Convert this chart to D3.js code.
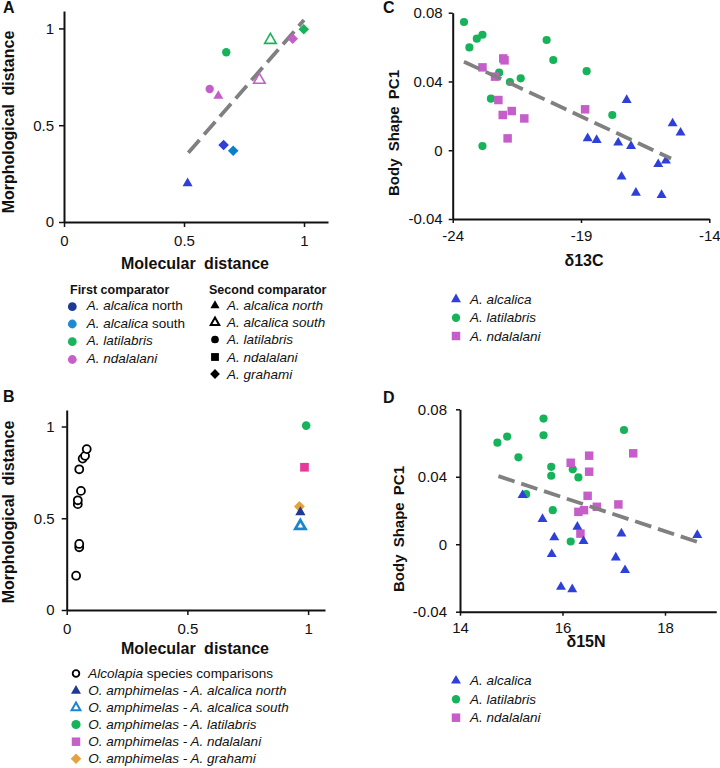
<!DOCTYPE html>
<html><head><meta charset="utf-8">
<script src="https://cdn.jsdelivr.net/npm/d3@7"></script>
<style>body{margin:0;background:#fff} text{font-family:'Liberation Sans',Arial,sans-serif;fill:#111}</style>
</head><body><svg id="c" width="720" height="768"></svg>
<script>
// ---------- Panel A data ----------
const aMolecular    = [0.515, 0.665, 0.705, 0.676, 0.607, 0.643, 0.814, 0.860, 0.953, 0.999];
const aMorphological= [0.200, 0.398, 0.368, 0.877, 0.687, 0.651, 0.734, 0.940, 0.947, 0.996];
const aFirst  = ["north","north","south","latilabris","ndalalani","ndalalani","ndalalani","latilabris","ndalalani","latilabris"];
const aSecond = ["alcN","gra","gra","lat","lat","alcN","alcS","alcS","gra","gra"];
const aTrendX = [0.518, 1.0];
const aTrendY = [0.358, 1.043];
const abTicks = [0, 0.5, 1];
const abTickLabels = ["0", "0.5", "1"];

// ---------- Panel B data ----------
const bAlcMolecular     = [0.039, 0.052, 0.052, 0.046, 0.046, 0.059, 0.052, 0.066, 0.076, 0.083];
const bAlcMorphological = [0.187, 0.342, 0.360, 0.577, 0.598, 0.649, 0.767, 0.825, 0.840, 0.877];
const bOutKeys          = ["grahami", "north", "south", "latilabris", "ndalalani"];
const bOutMolecular     = [0.964, 0.968, 0.968, 0.992, 0.985];
const bOutMorphological = [0.564, 0.533, 0.458, 1.005, 0.778];

// ---------- Panel C data (d13C vs PC1) ----------
const cAlcalicaX = [-18.74,-18.39,-17.22,-17.55,-17.05,-17.42,-16.86,-15.99,-15.69,-15.86,-15.43,-15.12];
const cAlcalicaY = [0.0069,0.0059,0.0292,0.0044,0.0024,-0.0154,-0.0248,-0.0081,-0.0061,-0.0261,0.0156,0.0102];
const cLatiX = [-23.56,-23.35,-23.06,-22.84,-22.84,-22.19,-22.51,-21.77,-21.35,-20.34,-20.08,-18.78,-17.78];
const cLatiY = [0.0746,0.0598,0.0649,0.0672,0.0024,0.0451,0.0300,0.0397,0.0418,0.0641,0.0525,0.0460,0.0205];
const cNdalX = [-22.84,-22.35,-22.03,-21.98,-22.22,-22.05,-21.70,-21.21,-21.86,-18.84];
const cNdalY = [0.0482,0.0428,0.0534,0.0523,0.0292,0.0205,0.0228,0.0185,0.0069,0.0238];
const cTrendX = [-23.56, -15.49];
const cTrendY = [0.0515, -0.0048];
const cXTicks = [-24, -19, -14];
const cXLabels = ["-24", "-19", "-14"];
const pcTicks = [-0.04, 0, 0.04, 0.08];
const pcLabels = ["-0.04", "0", "0.04", "0.08"];

// ---------- Panel D data (d15N vs PC1) ----------
const dAlcalicaX = [15.22,15.61,15.84,15.79,15.97,16.19,16.29,16.41,17.15,17.04,17.22,18.63];
const dAlcalicaY = [0.0291,0.0149,0.0040,-0.0059,-0.0253,-0.0267,0.0103,0.0018,0.0063,-0.0079,-0.0154,0.0054];
const dLatiX = [14.73,14.92,15.14,15.29,15.63,15.63,15.78,15.78,15.81,16.20,16.31,16.16,17.20];
const dLatiY = [0.0602,0.0638,0.0515,0.0297,0.0745,0.0646,0.0459,0.0406,0.0202,0.0444,0.0396,0.0016,0.0677];
const dNdalX = [16.16,16.52,16.52,16.49,16.67,16.31,16.42,16.35,17.09,17.38];
const dNdalY = [0.0483,0.0525,0.0430,0.0287,0.0222,0.0192,0.0202,0.0063,0.0236,0.0539];
const dTrendX = [14.75, 18.63];
const dTrendY = [0.0404, 0.0014];
const dXTicks = [14, 16, 18];
const dXLabels = ["14", "16", "18"];

// ---------- colours ----------
const plotColor = {north:"#2f3fd9", south:"#0b80c9", latilabris:"#16b35a", ndalalani:"#c45ec9"};
const legAColor = {north:"#1c3a93", south:"#1f8ad3", latilabris:"#1bb35d", ndalalani:"#c55fc9"};
const bColor = {north:"#1f3a95", south:"#1a86d0", latilabris:"#16b35a", ndalalani:"#e8389a", grahami:"#e3a23f"};
const bLegColor = {north:"#1f3a95", south:"#1a86d0", latilabris:"#16b35a", ndalalani:"#c55fc9", grahami:"#e3a23f"};
const spColor = {alc:"#2f3fd9", lat:"#16b35a", nda:"#c55ec8"};

const svg = d3.select("#c");
const sym = (type, size) => d3.symbol().type(type).size(size)();

function drawShape(g, kind, x, y, color, scale=1, sw=1.8) {
  let p;
  if (kind === "tri") p = g.append("path").attr("d", sym(d3.symbolTriangle, 43*scale)).attr("fill", color);
  else if (kind === "otri") p = g.append("path").attr("d", sym(d3.symbolTriangle, 52*scale)).attr("fill", "#fff").attr("stroke", color).attr("stroke-width", sw);
  else if (kind === "circle") p = g.append("path").attr("d", sym(d3.symbolCircle, 55*scale)).attr("fill", color);
  else if (kind === "ocircle") p = g.append("path").attr("d", sym(d3.symbolCircle, 50*scale)).attr("fill", "#fff").attr("stroke", color).attr("stroke-width", sw);
  else if (kind === "square") p = g.append("path").attr("d", sym(d3.symbolSquare, 72*scale)).attr("fill", color);
  else if (kind === "diamond") p = g.append("path").attr("d", sym(d3.symbolSquare, 56*scale)).attr("fill", color);
  p.attr("transform", `translate(${x},${y})` + (kind === "diamond" ? " rotate(45)" : ""));
  return p;
}

function axes(g, x, y, xt, xl, yt, yl, o) {
  const gx = g.append("g").attr("transform", `translate(0,${y.range()[0]})`)
    .call(d3.axisBottom(x).tickValues(xt).tickFormat((d,i)=>xl[i]).tickSizeOuter(0).tickSizeInner(o.xts).tickPadding(o.xpad));
  const gy = g.append("g").attr("transform", `translate(${x.range()[0]},0)`)
    .call(d3.axisLeft(y).tickValues(yt).tickFormat((d,i)=>yl[i]).tickSizeOuter(0).tickSizeInner(o.yts).tickPadding(o.ypad));
  [gx, gy].forEach(a => {
    a.select(".domain").attr("stroke", "#111").attr("stroke-width", 2);
    a.selectAll(".tick line").attr("stroke", "#111").attr("stroke-width", 1.5);
    a.selectAll(".tick text").attr("font-size", 15).attr("fill", "#1a1a1a").style("font-family", "'Liberation Sans',Arial,sans-serif");
  });
}

function title(txt, x, y, rot, size=16, ws=4) {
  const t = svg.append("text").text(txt).attr("font-weight", "bold").attr("font-size", size)
    .attr("text-anchor", "middle").style("word-spacing", ws + "px");
  if (rot) t.attr("transform", `translate(${x},${y}) rotate(-90)`);
  else t.attr("x", x).attr("y", y);
}
function letter(txt, x, y) {
  svg.append("text").text(txt).attr("x", x).attr("y", y).attr("font-weight", "bold").attr("font-size", 16);
}
function trend(g, x, y, xs, ys) {
  g.append("path").datum(xs.map((d,i)=>[d, ys[i]]))
    .attr("d", d3.line().x(d=>x(d[0])).y(d=>y(d[1])))
    .attr("stroke", "#808080").attr("stroke-width", 3.8).attr("stroke-dasharray", "17,7").attr("fill", "none");
}
function legText(x, y, parts, size=13.5) {
  const t = svg.append("text").attr("x", x).attr("y", y).attr("font-size", size).attr("fill", "#1a1a1a");
  parts.forEach(p => t.append("tspan").text(p[0]).attr("font-style", p[1] ? "italic" : "normal"));
}

// ================= Panel A =================
{
  const g = svg.append("g");
  const x = d3.scaleLinear().domain([0, 1.1]).range([64, 328]);
  const y = d3.scaleLinear().domain([0, 1.09]).range([222, 11]);
  axes(g, x, y, abTicks, abTickLabels, abTicks, abTickLabels, {xts:5, xpad:8, yts:5, ypad:5});
  trend(g, x, y, aTrendX, aTrendY);
  const shapeOf = {alcN:"tri", alcS:"otri", lat:"circle", nda:"square", gra:"diamond"};
  aMolecular.forEach((m, i) => drawShape(g, shapeOf[aSecond[i]], x(m), y(aMorphological[i]), plotColor[aFirst[i]], aSecond[i]==="alcS"?1.1:1, 1.6));
  letter("A", 3, 13);
  title("Morphological distance", 14, 122, true);
  title("Molecular distance", 195, 269, false);

  // legend
  svg.append("text").text("First comparator").attr("x", 70).attr("y", 294).attr("font-weight", "bold").attr("font-size", 12.5);
  svg.append("text").text("Second comparator").attr("x", 209).attr("y", 294).attr("font-weight", "bold").attr("font-size", 12.5);
  const firstKeys = ["north", "south", "latilabris", "ndalalani"];
  const firstParts = [[["A. alcalica",1],[" north",0]], [["A. alcalica",1],[" south",0]], [["A. latilabris",1]], [["A. ndalalani",1]]];
  const firstY = [306.7, 324, 341.7, 359.5];
  firstKeys.forEach((k, i) => {
    drawShape(svg, "circle", 72.3, firstY[i], legAColor[k], 1.1);
    legText(86.7, firstY[i] + 3.5, firstParts[i]);
  });
  const secKinds = ["tri", "otri", "circle", "square", "diamond"];
  const secNames = ["A. alcalica north", "A. alcalica south", "A. latilabris", "A. ndalalani", "A. grahami"];
  const secY = [305.5, 322.5, 339.5, 357, 374];
  secKinds.forEach((k, i) => {
    drawShape(svg, k, 215, secY[i], "#000", k==="otri"?0.6:0.85, 2);
    legText(227, secY[i] + 4.5, [[secNames[i],1]]);
  });
}

// ================= Panel B =================
{
  const g = svg.append("g");
  const x = d3.scaleLinear().domain([0, 1.07]).range([66.7, 325]);
  const y = d3.scaleLinear().domain([0, 1.09]).range([610, 410]);
  axes(g, x, y, abTicks, abTickLabels, abTicks, abTickLabels, {xts:5, xpad:8, yts:5, ypad:7});
  bAlcMolecular.forEach((m, i) => drawShape(g, "ocircle", x(m), y(bAlcMorphological[i]), "#000", 1, 1.8));
  const kindOf = {north:"tri", south:"otri", latilabris:"circle", ndalalani:"square", grahami:"diamond"};
  bOutKeys.forEach((k, i) => drawShape(g, kindOf[k], x(bOutMolecular[i]), y(bOutMorphological[i]), bColor[k], k==="south"?0.85:1.05, 2.8));
  letter("B", 3, 402);
  title("Morphological distance", 14, 512, true);
  title("Molecular distance", 195, 654, false);

  const legKeys = ["alc", "north", "south", "latilabris", "ndalalani", "grahami"];
  const legParts = [[["Alcolapia",1],[" species comparisons",0]],
    [["O. amphimelas - A. alcalica north",1]], [["O. amphimelas - A. alcalica south",1]],
    [["O. amphimelas - A. latilabris",1]], [["O. amphimelas - A. ndalalani",1]], [["O. amphimelas - A. grahami",1]]];
  const legY = [673.5, 690.8, 707.7, 724.5, 741.7, 758.7];
  legKeys.forEach((k, i) => {
    if (k === "alc") drawShape(svg, "ocircle", 76, legY[i], "#000", 0.7, 1.8);
    else drawShape(svg, kindOf[k], 76, legY[i], bLegColor[k], k==="south"?0.65:(k==="latilabris"?1.2:1.0), 2);
    legText(88.3, legY[i] + 4.5, legParts[i]);
  });
}

// ================= Panels C & D =================
function isoPanel(cfg) {
  const g = svg.append("g");
  const x = d3.scaleLinear().domain(cfg.xd).range(cfg.xr);
  const y = d3.scaleLinear().domain([-0.04, 0.08]).range(cfg.yr);
  axes(g, x, y, cfg.xt, cfg.xl, pcTicks, pcLabels, {xts:4, xpad:7, yts:4, ypad:cfg.ypad});
  cfg.lx.forEach((v, i) => drawShape(g, "circle", x(v), y(cfg.ly[i]), spColor.lat, 0.95));
  cfg.nx.forEach((v, i) => drawShape(g, "square", x(v), y(cfg.ny[i]), spColor.nda, 1.0));
  cfg.ax.forEach((v, i) => drawShape(g, "tri", x(v), y(cfg.ay[i]), spColor.alc, 1.0));
  trend(g, x, y, cfg.tx, cfg.ty);
  letter(cfg.letter, 383, cfg.letterY);
  title("Body Shape PC1", cfg.ytx, cfg.yty, true, 15, 3);
  title(cfg.xtitle, cfg.xtx, cfg.xty, false, 16, 0);
  const names = ["A. alcalica", "A. latilabris", "A. ndalalani"];
  const kinds = ["tri", "circle", "square"];
  const cols = [spColor.alc, spColor.lat, spColor.nda];
  cfg.legY.forEach((ly, i) => {
    drawShape(svg, kinds[i], 456, ly, cols[i], 1.0);
    legText(470, ly + 4.5, [[names[i],1]]);
  });
}
isoPanel({xd:[-24,-14], xr:[452.7,709.3], yr:[219,12.7], xt:cXTicks, xl:cXLabels, ypad:6,
  ax:cAlcalicaX, ay:cAlcalicaY, lx:cLatiX, ly:cLatiY, nx:cNdalX, ny:cNdalY, tx:cTrendX, ty:cTrendY,
  letter:"C", letterY:13, ytx:399, yty:133, xtitle:"δ13C", xtx:584, xty:266, legY:[299.3, 317.7, 336]});
isoPanel({xd:[14,19], xr:[460,716.25], yr:[611.7,409.3], xt:dXTicks, xl:dXLabels, ypad:9,
  ax:dAlcalicaX, ay:dAlcalicaY, lx:dLatiX, ly:dLatiY, nx:dNdalX, ny:dNdalY, tx:dTrendX, ty:dTrendY,
  letter:"D", letterY:403, ytx:404, yty:529, xtitle:"δ15N", xtx:586, xty:647, legY:[680.7, 699.3, 717.7]});
</script>
</body></html>
